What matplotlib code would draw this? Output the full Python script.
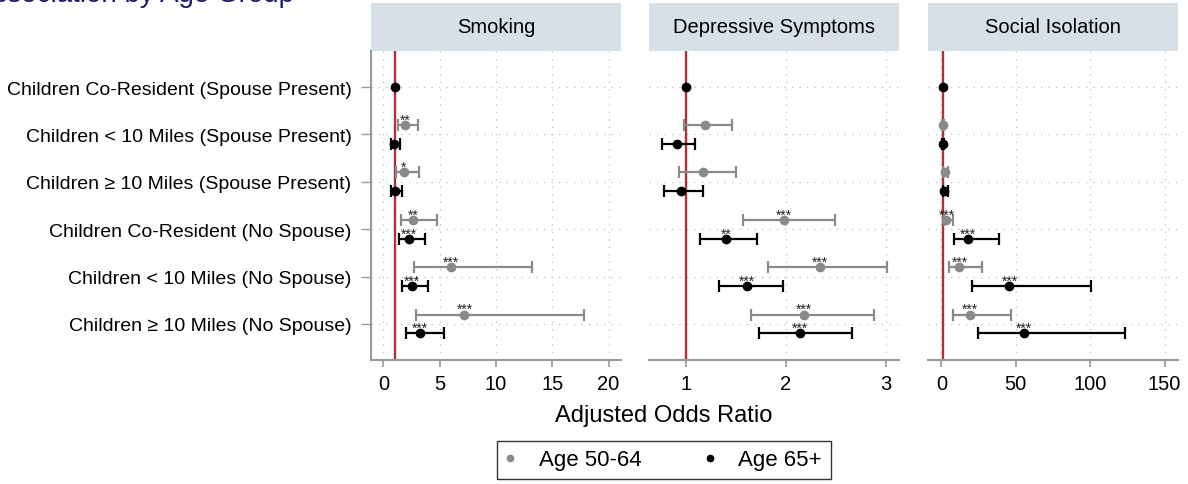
import matplotlib
matplotlib.use("Agg")
import matplotlib.pyplot as plt
from matplotlib.lines import Line2D
from matplotlib.patches import Rectangle

plt.rcParams["font.family"] = ["Liberation Sans", "DejaVu Sans"]

row_labels = [
    "Children Co-Resident (Spouse Present)",
    "Children < 10 Miles (Spouse Present)",
    "Children \u2265 10 Miles (Spouse Present)",
    "Children Co-Resident (No Spouse)",
    "Children < 10 Miles (No Spouse)",
    "Children \u2265 10 Miles (No Spouse)",
]
panel_titles = ["Smoking", "Depressive Symptoms", "Social Isolation"]
reference_or = 1.0

# rows 2..6 (row 1 is the reference category)
smoking_young_or = [1.96, 1.82, 2.62, 6.02, 7.20]
smoking_young_lo = [1.28, 1.13, 1.52, 2.74, 2.89]
smoking_young_hi = [3.07, 3.13, 4.79, 13.19, 17.80]
smoking_young_sig = ["**", "*", "**", "***", "***"]
smoking_old_or = [0.98, 0.99, 2.26, 2.50, 3.28]
smoking_old_lo = [0.66, 0.66, 1.43, 1.61, 1.97]
smoking_old_hi = [1.49, 1.64, 3.66, 3.99, 5.36]
smoking_old_sig = ["", "", "***", "***", "***"]

depress_young_or = [1.19, 1.17, 1.98, 2.34, 2.18]
depress_young_lo = [0.98, 0.93, 1.57, 1.82, 1.65]
depress_young_hi = [1.46, 1.50, 2.49, 3.01, 2.88]
depress_young_sig = ["", "", "***", "***", "***"]
depress_old_or = [0.91, 0.95, 1.40, 1.61, 2.14]
depress_old_lo = [0.76, 0.78, 1.14, 1.33, 1.73]
depress_old_hi = [1.09, 1.17, 1.71, 1.97, 2.66]
depress_old_sig = ["", "", "**", "***", "***"]

isolation_young_or = [1.1, 2.2, 3.4, 12.1, 19.0]
isolation_young_lo = [0.7, 1.0, 1.6, 5.4, 7.6]
isolation_young_hi = [1.6, 4.2, 8.1, 27.5, 46.6]
isolation_young_sig = ["", "", "***", "***", "***"]
isolation_old_or = [1.0, 2.0, 17.9, 45.7, 55.3]
isolation_old_lo = [0.6, 0.8, 8.5, 20.8, 24.9]
isolation_old_hi = [1.6, 4.5, 38.7, 100.3, 123.6]
isolation_old_sig = ["", "", "***", "***", "***"]

panels = [
    (smoking_young_or, smoking_young_lo, smoking_young_hi, smoking_young_sig,
     smoking_old_or, smoking_old_lo, smoking_old_hi, smoking_old_sig,
     (-1.1, 21.1), [0, 5, 10, 15, 20]),
    (depress_young_or, depress_young_lo, depress_young_hi, depress_young_sig,
     depress_old_or, depress_old_lo, depress_old_hi, depress_old_sig,
     (0.625, 3.135), [1, 2, 3]),
    (isolation_young_or, isolation_young_lo, isolation_young_hi, isolation_young_sig,
     isolation_old_or, isolation_old_lo, isolation_old_hi, isolation_old_sig,
     (-9.0, 159.0), [0, 50, 100, 150]),
]

young_color = "#8a8a8a"
old_color = "black"
axis_gray = "#9a9a9a"
strip_color = "#d8e0e7"
ref_color = "#b0303a"

W, H = 1188, 485
fig = plt.figure(figsize=(W / 100, H / 100), dpi=100)

ax_left_px = [371, 649, 928]
ax_width_px = 250
ax_top_px, ax_bottom_px = 52, 361
strip_px = 48

rows = list(range(1, len(row_labels) + 1))
offset = 0.2

for i, (y_or, y_lo, y_hi, y_sig, o_or, o_lo, o_hi, o_sig, xlim, xticks) in enumerate(panels):
    ax = fig.add_axes([
        ax_left_px[i] / W,
        1 - ax_bottom_px / H,
        ax_width_px / W,
        (ax_bottom_px - ax_top_px) / H,
    ])
    ax.set_xlim(*xlim)
    ax.set_ylim(6.76, 0.24)

    for gx in xticks:
        ax.axvline(gx, color="#bdbdbd", lw=0.9, ls=(0, (1, 5)), zorder=0)
    for gy in rows:
        ax.axhline(gy, color="#bdbdbd", lw=0.9, ls=(0, (1, 5)), zorder=0)
    ax.axvline(1, color=ref_color, lw=1.7, zorder=1)

    y_pos = [r - offset for r in rows[1:]]
    o_pos = [r + offset for r in rows[1:]]
    for vals, lo, hi, sig, ypos, col in [
        (y_or, y_lo, y_hi, y_sig, y_pos, young_color),
        (o_or, o_lo, o_hi, o_sig, o_pos, old_color),
    ]:
        xerr = [[v - l for v, l in zip(vals, lo)], [h - v for v, h in zip(vals, hi)]]
        ax.errorbar(vals, ypos, xerr=xerr, fmt="o", color=col, ecolor=col,
                    elinewidth=1.6, capsize=4, capthick=1.6, markersize=6, zorder=3)
        for v, yy, s in zip(vals, ypos, sig):
            if s:
                ax.annotate(s, (v, yy), xytext=(0, 1), textcoords="offset points",
                            ha="center", va="baseline", fontsize=10, color="#222222")
    ax.plot([reference_or], [rows[0]], "o", color=old_color, markersize=6, zorder=3)

    ax.set_xticks(xticks)
    ax.tick_params(axis="x", labelsize=14.5, color=axis_gray, length=5, width=1.2, pad=5)
    for side in ["top", "right"]:
        ax.spines[side].set_visible(False)
    ax.spines["bottom"].set_color(axis_gray)
    ax.spines["bottom"].set_linewidth(1.5)
    if i == 0:
        ax.set_yticks(rows)
        ax.set_yticklabels(row_labels)
        ax.tick_params(axis="y", labelsize=14, color=axis_gray, length=7, width=1.0, pad=7)
        ax.spines["left"].set_color(axis_gray)
        ax.spines["left"].set_linewidth(1.5)
    else:
        ax.set_yticks([])
        ax.spines["left"].set_visible(False)

    strip_h = strip_px / (ax_bottom_px - ax_top_px)
    ax.add_patch(Rectangle((0, 1), 1, strip_h, transform=ax.transAxes,
                           facecolor=strip_color, edgecolor="none", clip_on=False))
    ax.text(0.5, 1 + strip_h / 2, panel_titles[i], transform=ax.transAxes,
            ha="center", va="center", fontsize=14.5)

# title, cut at the top edge of the image
fig.text(294 / W, 1 - 1.5 / H, "Association by Age Group", ha="right", va="baseline",
         fontsize=20, color="#1c1c66")

fig.text(664 / W, 1 - 416 / H, "Adjusted Odds Ratio", ha="center", va="center", fontsize=17)

handles = [
    Line2D([], [], marker="o", ls="none", color=young_color, markersize=4.5),
    Line2D([], [], marker="o", ls="none", color=old_color, markersize=4.5),
]
leg = fig.legend(handles, ["Age 50-64", "Age 65+"], loc="center",
                 bbox_to_anchor=(664 / W, 1 - 461 / H), ncol=2, fontsize=16,
                 frameon=True, fancybox=False, edgecolor="black",
                 handlelength=0.4, handletextpad=1.07, columnspacing=2.9,
                 borderpad=0.4)
leg.get_frame().set_linewidth(1.0)

fig.savefig("out.png", dpi=100)
